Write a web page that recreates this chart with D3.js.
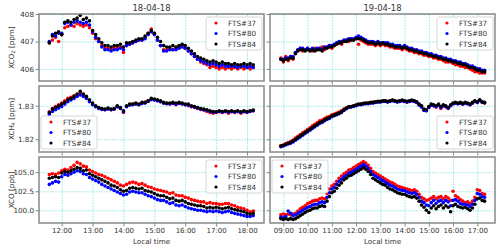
<!DOCTYPE html>
<html>
<head>
<meta charset="utf-8">
<script src="https://cdn.jsdelivr.net/npm/d3@7"></script>
<style>
  body { margin: 0; background: #fff; }
  svg { display: block; font-family: "DejaVu Sans", sans-serif; }
</style>
</head>
<body>
<div id="chart"></div>
<script>
// two measurement days, three instruments, three gases
var days = ['18-04-18', '19-04-18'];
var instruments = ['FTS#37', 'FTS#80', 'FTS#84'];
var gases = ['XCO2', 'XCH4', 'XCO'];

// sample times (local hour), one every 6 minutes
var day1Start = 11.6, day1Count = 67;
var day2Start = 8.9, day2Count = 85;

var xTicksDay1 = [12, 13, 14, 15, 16, 17, 18];
var xTicksDay2 = [9, 10, 11, 12, 13, 14, 15, 16, 17];
var yTicksCO2 = [406, 407, 408];
var yTicksCH4 = [1.82, 1.83];
var yTicksCO = [100, 102.5, 105];

// ---- XCO2 [ppm] ----
var co2Day1_37 = [406.95,407.05,407.15,407.00,407.25,407.50,407.55,407.60,407.55,407.65,
  407.60,407.55,407.60,407.50,407.30,407.10,407.00,406.85,406.75,406.75,
  406.70,406.75,406.75,406.80,406.60,406.85,406.90,406.95,407.00,407.05,
  407.05,407.15,407.30,407.45,407.30,407.05,406.85,406.70,406.70,406.75,
  406.70,406.75,406.80,406.85,406.75,406.65,406.55,406.45,406.35,406.25,
  406.20,406.15,406.05,406.10,406.05,406.00,406.05,406.00,406.05,406.00,
  406.05,406.00,406.05,406.00,406.05,406.00,406.05];
var co2Day1_80 = [407.00,407.25,407.20,407.30,407.30,407.65,407.70,407.60,407.70,407.75,
  407.70,407.65,407.70,407.60,407.35,407.15,407.00,406.80,406.70,406.70,
  406.65,406.70,406.70,406.75,406.70,406.85,406.90,406.95,407.00,407.05,
  407.05,407.10,407.25,407.35,407.25,407.05,406.85,406.65,406.65,406.70,
  406.70,406.70,406.75,406.80,406.75,406.65,406.55,406.45,406.35,406.30,
  406.25,406.20,406.15,406.20,406.15,406.10,406.15,406.10,406.10,406.10,
  406.10,406.05,406.10,406.10,406.05,406.10,406.05];
var co2Day1_84 = [406.95,407.20,407.30,407.35,407.25,407.70,407.75,407.70,407.80,407.85,
  407.95,407.80,407.85,407.75,407.40,407.25,407.10,406.95,406.85,406.85,
  406.80,406.85,406.85,406.90,406.80,406.95,406.95,407.00,407.05,407.10,
  407.10,407.20,407.30,407.40,407.30,407.15,407.00,406.85,406.80,406.80,
  406.85,406.80,406.85,406.90,406.85,406.75,406.65,406.55,406.45,406.40,
  406.35,406.30,406.25,406.30,406.25,406.20,406.25,406.20,406.20,406.15,
  406.20,406.15,406.15,406.20,406.15,406.20,406.15];
var co2Day2_37 = [406.40,406.25,406.45,406.30,406.45,406.35,406.60,406.70,406.75,406.65,
  406.70,406.75,406.70,406.65,406.75,406.70,406.75,406.80,406.70,406.80,
  406.85,406.75,406.85,406.90,406.95,406.90,407.00,407.05,407.00,407.10,
  407.05,407.10,406.90,407.05,407.00,406.95,406.90,406.90,406.90,406.85,
  406.90,406.85,406.90,406.85,406.85,406.80,406.80,406.75,406.75,406.75,
  406.70,406.75,406.70,406.65,406.65,406.60,406.60,406.55,406.55,406.50,
  406.50,406.45,406.45,406.40,406.40,406.35,406.35,406.30,406.25,406.25,
  406.25,406.20,406.15,406.15,406.10,406.10,406.05,406.05,406.00,405.95,
  405.90,405.90,405.85,405.85,405.85];
var co2Day2_80 = [406.35,406.35,406.40,406.40,406.45,406.45,406.60,406.70,406.75,406.75,
  406.70,406.75,406.70,406.75,406.70,406.75,406.75,406.70,406.80,406.80,
  406.85,406.85,406.90,406.95,407.00,407.00,407.05,407.05,407.10,407.10,
  407.10,407.15,407.20,407.15,407.10,407.05,407.00,407.00,407.00,406.95,
  407.00,406.95,406.95,406.95,406.95,406.90,406.90,406.85,406.85,406.85,
  406.80,406.85,406.80,406.75,406.75,406.70,406.70,406.65,406.65,406.60,
  406.60,406.55,406.55,406.50,406.50,406.45,406.45,406.40,406.40,406.35,
  406.35,406.30,406.30,406.25,406.25,406.20,406.20,406.15,406.10,406.10,
  406.05,406.00,406.00,405.95,405.95];
var co2Day2_84 = [406.35,406.30,406.35,406.35,406.40,406.40,406.55,406.65,406.70,406.70,
  406.65,406.70,406.65,406.70,406.65,406.70,406.70,406.65,406.75,406.75,
  406.80,406.80,406.85,406.90,406.95,406.95,407.00,407.00,407.05,407.05,
  407.05,407.10,407.10,407.10,407.05,407.00,406.95,406.95,406.95,406.90,
  406.95,406.90,406.95,406.90,406.90,406.85,406.85,406.80,406.80,406.80,
  406.75,406.80,406.75,406.70,406.70,406.65,406.65,406.60,406.60,406.55,
  406.55,406.50,406.50,406.45,406.45,406.40,406.40,406.35,406.35,406.30,
  406.30,406.25,406.25,406.20,406.20,406.15,406.15,406.10,406.05,406.05,
  406.00,405.95,405.95,405.90,405.90];

// ---- XCH4 [ppm] ----
var ch4Day1_37 = [1.8282,1.8292,1.8298,1.8303,1.8308,1.8315,1.8322,1.8325,1.8330,1.8333,
  1.8338,1.8332,1.8325,1.8315,1.8305,1.8298,1.8293,1.8290,1.8288,1.8292,
  1.8288,1.8290,1.8298,1.8292,1.8280,1.8298,1.8303,1.8305,1.8306,1.8303,
  1.8308,1.8310,1.8315,1.8320,1.8318,1.8315,1.8312,1.8308,1.8307,1.8305,
  1.8308,1.8303,1.8308,1.8305,1.8303,1.8300,1.8297,1.8295,1.8292,1.8289,
  1.8287,1.8283,1.8280,1.8278,1.8280,1.8282,1.8280,1.8282,1.8278,1.8282,
  1.8280,1.8282,1.8278,1.8282,1.8280,1.8283,1.8285];
var ch4Day1_80 = [1.8275,1.8283,1.8288,1.8293,1.8298,1.8305,1.8312,1.8317,1.8322,1.8328,
  1.8332,1.8328,1.8322,1.8312,1.8303,1.8297,1.8292,1.8289,1.8288,1.8290,
  1.8288,1.8290,1.8297,1.8292,1.8282,1.8297,1.8302,1.8303,1.8305,1.8303,
  1.8307,1.8308,1.8313,1.8318,1.8317,1.8315,1.8312,1.8308,1.8306,1.8306,
  1.8307,1.8305,1.8307,1.8306,1.8303,1.8302,1.8298,1.8296,1.8293,1.8290,
  1.8288,1.8286,1.8283,1.8281,1.8281,1.8283,1.8281,1.8283,1.8281,1.8283,
  1.8281,1.8283,1.8280,1.8283,1.8281,1.8284,1.8285];
var ch4Day1_84 = [1.8280,1.8290,1.8295,1.8300,1.8305,1.8310,1.8318,1.8322,1.8328,1.8335,
  1.8343,1.8335,1.8328,1.8318,1.8308,1.8300,1.8295,1.8292,1.8290,1.8293,
  1.8290,1.8292,1.8300,1.8295,1.8285,1.8300,1.8305,1.8305,1.8308,1.8305,
  1.8310,1.8310,1.8315,1.8322,1.8320,1.8318,1.8315,1.8310,1.8308,1.8308,
  1.8310,1.8308,1.8310,1.8308,1.8305,1.8305,1.8300,1.8298,1.8295,1.8292,
  1.8290,1.8288,1.8285,1.8283,1.8282,1.8285,1.8283,1.8285,1.8283,1.8285,
  1.8283,1.8285,1.8282,1.8285,1.8283,1.8285,1.8287];
var ch4Day2_37 = [1.8181,1.8183,1.8187,1.8190,1.8193,1.8198,1.8204,1.8209,1.8214,1.8219,
  1.8224,1.8229,1.8234,1.8240,1.8245,1.8250,1.8255,1.8257,1.8262,1.8266,
  1.8268,1.8273,1.8275,1.8278,1.8281,1.8285,1.8290,1.8294,1.8297,1.8298,
  1.8300,1.8302,1.8304,1.8305,1.8306,1.8307,1.8308,1.8309,1.8310,1.8311,
  1.8312,1.8312,1.8314,1.8314,1.8312,1.8314,1.8316,1.8314,1.8312,1.8313,
  1.8315,1.8313,1.8311,1.8313,1.8315,1.8313,1.8310,1.8303,1.8297,1.8287,
  1.8285,1.8295,1.8302,1.8300,1.8296,1.8302,1.8292,1.8300,1.8297,1.8292,
  1.8300,1.8306,1.8308,1.8306,1.8308,1.8305,1.8308,1.8306,1.8303,1.8308,
  1.8313,1.8310,1.8316,1.8310,1.8308];
var ch4Day2_80 = [1.8178,1.8180,1.8183,1.8186,1.8188,1.8192,1.8197,1.8202,1.8207,1.8212,
  1.8217,1.8222,1.8227,1.8232,1.8237,1.8242,1.8247,1.8250,1.8255,1.8259,
  1.8262,1.8267,1.8270,1.8273,1.8276,1.8280,1.8286,1.8291,1.8295,1.8296,
  1.8298,1.8300,1.8303,1.8303,1.8305,1.8306,1.8306,1.8308,1.8308,1.8310,
  1.8311,1.8311,1.8313,1.8313,1.8311,1.8313,1.8315,1.8313,1.8311,1.8313,
  1.8315,1.8313,1.8311,1.8313,1.8315,1.8313,1.8310,1.8302,1.8296,1.8286,
  1.8285,1.8295,1.8302,1.8300,1.8297,1.8302,1.8295,1.8300,1.8297,1.8293,
  1.8300,1.8306,1.8308,1.8306,1.8308,1.8305,1.8308,1.8306,1.8303,1.8308,
  1.8313,1.8310,1.8316,1.8311,1.8309];
var ch4Day2_84 = [1.8180,1.8182,1.8185,1.8188,1.8190,1.8195,1.8200,1.8205,1.8210,1.8215,
  1.8220,1.8225,1.8230,1.8235,1.8240,1.8245,1.8250,1.8253,1.8258,1.8262,
  1.8265,1.8270,1.8272,1.8275,1.8278,1.8282,1.8288,1.8293,1.8297,1.8298,
  1.8300,1.8302,1.8305,1.8305,1.8307,1.8308,1.8308,1.8310,1.8310,1.8312,
  1.8313,1.8313,1.8315,1.8315,1.8313,1.8315,1.8317,1.8315,1.8313,1.8315,
  1.8317,1.8315,1.8313,1.8315,1.8317,1.8315,1.8312,1.8305,1.8300,1.8290,
  1.8288,1.8298,1.8305,1.8303,1.8300,1.8305,1.8298,1.8303,1.8300,1.8295,
  1.8303,1.8308,1.8310,1.8308,1.8310,1.8307,1.8310,1.8308,1.8305,1.8310,
  1.8315,1.8312,1.8318,1.8312,1.8310];

// ---- XCO [ppb] ----
var coDay1_37 = [104.7,104.8,104.7,104.9,105.2,105.4,105.3,105.6,105.9,106.3,
  106.1,105.8,105.7,105.3,105.1,104.9,104.7,104.6,104.4,104.2,
  104.0,103.8,103.6,103.3,103.2,103.4,103.6,103.7,103.6,103.4,
  103.5,103.3,103.1,103.0,102.8,102.7,102.6,102.5,102.4,102.2,
  102.3,102.0,101.9,101.9,101.7,101.6,101.4,101.3,101.2,101.1,
  101.1,100.9,101.0,100.9,100.9,100.8,100.8,100.9,100.9,100.7,
  100.6,100.4,100.3,100.2,100.0,99.8,99.9];
var coDay1_80 = [103.4,103.6,103.8,103.7,104.4,104.7,104.6,104.8,105.0,105.2,
  105.1,104.8,104.7,104.3,104.1,103.9,103.7,103.4,103.2,103.0,
  102.8,102.6,102.4,102.2,102.0,102.1,102.4,102.5,102.4,102.3,
  102.3,102.1,101.9,101.8,101.6,101.4,101.3,101.3,101.1,100.9,
  101.0,100.7,100.6,100.7,100.5,100.3,100.2,100.1,100.0,100.0,
  99.9,99.8,99.9,99.8,99.9,99.8,99.7,99.8,99.9,99.7,
  99.6,99.5,99.4,99.3,99.2,99.2,99.3];
var coDay1_84 = [104.2,104.3,104.4,104.3,104.9,105.1,105.0,105.2,105.4,105.6,
  105.5,105.2,105.3,104.8,104.6,104.4,104.2,104.0,103.8,103.6,
  103.3,103.2,103.0,102.7,102.5,102.6,102.9,103.0,102.9,102.8,
  102.9,102.6,102.5,102.4,102.2,102.0,101.9,101.9,101.7,101.5,
  101.6,101.3,101.2,101.3,101.1,100.9,100.8,100.7,100.6,100.6,
  100.5,100.3,100.4,100.3,100.4,100.3,100.2,100.3,100.4,100.2,
  100.1,100.0,99.9,99.8,99.6,99.5,99.6];
var coDay2_37 = [99.4,99.5,99.4,99.5,99.4,99.5,99.6,99.9,100.2,100.4,
  100.6,100.9,101.0,101.2,101.3,101.3,101.5,101.6,101.5,102.2,
  102.8,103.2,103.4,103.8,104.2,104.5,104.8,105.0,105.3,105.4,
  105.6,105.8,106.0,106.2,106.4,106.2,105.9,105.5,105.1,104.9,
  104.7,104.5,104.3,104.1,103.9,103.7,103.6,103.4,103.2,103.1,
  103.0,102.9,102.8,102.7,102.6,102.7,102.5,102.1,101.7,101.5,
  101.3,101.4,101.6,101.8,101.5,101.7,101.8,101.5,101.8,101.6,
  101.3,102.5,101.9,101.7,101.4,101.2,101.0,101.1,100.9,101.2,
  101.7,102.7,102.6,102.2,102.1];
var coDay2_80 = [99.1,99.0,99.2,99.9,99.6,99.3,99.4,99.6,99.8,100.0,
  100.2,100.4,100.5,100.7,100.8,100.8,101.0,101.1,101.0,101.7,
  102.3,102.8,103.0,103.4,103.8,104.1,104.4,104.6,104.9,105.0,
  105.2,105.4,105.6,105.8,106.0,105.8,105.5,105.1,104.7,104.5,
  104.3,104.1,103.9,103.7,103.5,103.3,103.2,103.0,102.8,102.7,
  102.6,102.6,102.4,102.3,102.2,102.3,102.1,101.7,101.2,101.0,
  100.7,100.6,101.0,101.3,100.9,101.2,101.3,101.0,101.3,101.1,
  100.6,101.3,101.4,101.2,100.9,100.8,100.8,100.7,100.5,100.8,
  101.3,102.2,102.1,101.8,101.7];
var coDay2_84 = [98.9,98.8,98.9,98.8,98.9,98.8,98.9,99.1,99.3,99.5,
  99.7,99.9,100.0,100.2,100.3,100.3,100.5,100.6,100.5,101.2,
  101.8,102.3,102.5,102.9,103.3,103.6,104.0,104.2,104.5,104.6,
  104.8,105.0,105.2,105.4,105.6,105.4,105.1,104.7,104.2,104.0,
  103.8,103.6,103.4,103.3,103.0,102.8,102.7,102.5,102.3,102.2,
  102.1,102.1,101.9,101.8,101.7,101.8,101.6,101.2,100.7,100.4,
  100.0,99.7,100.3,100.6,100.2,100.5,100.7,100.3,100.6,100.4,
  99.8,100.6,100.8,100.5,100.4,100.3,100.4,100.2,100.0,100.3,
  100.8,101.5,101.6,101.3,101.2];

// ---- layout ----
var width = 500, height = 248;
var colX = [[39, 264], [270, 495]];
var rowY = [[14, 81], [86, 152], [157, 223]];
var xDomains = [[11.265, 18.55], [8.45, 17.73]];
var yDomains = [[405.56, 408.0], [1.8162, 1.8359], [98.33, 107.0]];
var colors = ['#ff0000', '#0000ff', '#000000'];

var series = [
  [[co2Day1_37, co2Day1_80, co2Day1_84], [co2Day2_37, co2Day2_80, co2Day2_84]],
  [[ch4Day1_37, ch4Day1_80, ch4Day1_84], [ch4Day2_37, ch4Day2_80, ch4Day2_84]],
  [[coDay1_37, coDay1_80, coDay1_84], [coDay2_37, coDay2_80, coDay2_84]]
];
var times = [
  d3.range(day1Count).map(i => +(day1Start + i * 0.1).toFixed(2)),
  d3.range(day2Count).map(i => +(day2Start + i * 0.1).toFixed(2))
];
var xTicks = [xTicksDay1, xTicksDay2];
var yTicks = [yTicksCO2, yTicksCH4, yTicksCO];
var yFormats = [d3.format('d'), d3.format('.2f'), d3.format('.1f')];
// legend corner per panel: [row][col]
var legendPos = [['ur', 'ur'], ['ll', 'lr'], ['ur', 'ul']];

var svg = d3.select('#chart').append('svg')
  .attr('width', width).attr('height', height);

var fmtHour = h => (h < 10 ? '0' : '') + h + ':00';

for (let r = 0; r < 3; r++) {
  for (let c = 0; c < 2; c++) {
    let x = d3.scaleLinear().domain(xDomains[c]).range(colX[c]);
    let y = d3.scaleLinear().domain(yDomains[r]).range([rowY[r][1], rowY[r][0]]);
    let x0 = colX[c][0], x1 = colX[c][1], y0 = rowY[r][0], y1 = rowY[r][1];
    let g = svg.append('g');

    // grid
    g.append('g')
      .attr('transform', `translate(0,${y1})`)
      .call(d3.axisBottom(x).tickValues(xTicks[c]).tickSize(-(y1 - y0)).tickFormat(''))
      .call(s => s.select('.domain').remove())
      .selectAll('line').attr('stroke', '#7fe0e0').attr('stroke-width', 0.8).attr('stroke-dasharray', '1.5,1.2');
    g.append('g')
      .attr('transform', `translate(${x0},0)`)
      .call(d3.axisLeft(y).tickValues(yTicks[r]).tickSize(-(x1 - x0)).tickFormat(''))
      .call(s => s.select('.domain').remove())
      .selectAll('line').attr('stroke', '#7fe0e0').attr('stroke-width', 0.8).attr('stroke-dasharray', '1.5,1.2');

    // points
    let t = times[c];
    series[r][c].forEach((vals, k) => {
      g.append('g').selectAll('circle')
        .data(vals)
        .enter().append('circle')
        .attr('cx', (d, i) => x(t[i]))
        .attr('cy', d => y(d))
        .attr('r', 1.8)
        .attr('fill', colors[k]);
    });

    // frame
    g.append('rect')
      .attr('x', x0).attr('y', y0)
      .attr('width', x1 - x0).attr('height', y1 - y0)
      .attr('fill', 'none').attr('stroke', '#888').attr('stroke-width', 1.5);

    // axes
    let ax = g.append('g')
      .attr('transform', `translate(0,${y1})`)
      .call(d3.axisBottom(x).tickValues(xTicks[c]).tickSize(3.5).tickPadding(2)
        .tickFormat(r === 2 ? fmtHour : ''));
    ax.select('.domain').remove();
    ax.selectAll('line').attr('stroke', '#888');
    ax.selectAll('text').attr('font-size', 7).attr('fill', '#333').attr('font-family', 'DejaVu Sans');

    let ay = g.append('g')
      .attr('transform', `translate(${x0},0)`)
      .call(d3.axisLeft(y).tickValues(yTicks[r]).tickSize(3.5).tickPadding(1.5)
        .tickFormat(c === 0 ? yFormats[r] : ''));
    ay.select('.domain').remove();
    ay.selectAll('line').attr('stroke', '#888');
    ay.selectAll('text').attr('font-size', 7.2).attr('fill', '#333').attr('font-family', 'DejaVu Sans');

    // legend
    let lw = 56, lh = 33;
    let pos = legendPos[r][c];
    let lx = pos[1] === 'r' ? x1 - 2 - lw : x0 + 2;
    let ly = pos[0] === 'u' ? y0 + 3 : y1 - 3 - lh;
    let lg = g.append('g').attr('transform', `translate(${lx},${ly})`);
    lg.append('rect')
      .attr('width', lw).attr('height', lh).attr('rx', 2)
      .attr('fill', 'white').attr('fill-opacity', 0.8)
      .attr('stroke', '#ccc').attr('stroke-width', 0.8);
    instruments.forEach((name, k) => {
      lg.append('circle').attr('cx', 10).attr('cy', 6 + k * 10.5).attr('r', 1.6).attr('fill', colors[k]);
      lg.append('text').attr('x', 22).attr('y', 6 + k * 10.5).attr('dy', '0.35em')
        .attr('font-size', 7.2).attr('fill', '#333').text(name);
    });
  }
}

// titles
days.forEach((d, c) => {
  svg.append('text')
    .attr('x', (colX[c][0] + colX[c][1]) / 2).attr('y', 11)
    .attr('text-anchor', 'middle').attr('font-size', 8.4).attr('fill', '#333')
    .text(d);
  svg.append('text')
    .attr('x', (colX[c][0] + colX[c][1]) / 2).attr('y', 243.5)
    .attr('text-anchor', 'middle').attr('font-size', 7.2).attr('fill', '#333')
    .text('Local time');
});

// y labels with subscripts
var yLabels = [['XCO', '2', ' [ppm]'], ['XCH', '4', ' [ppm]'], ['XCO', '', ' [ppb]']];
yLabels.forEach((lab, r) => {
  let cy = (rowY[r][0] + rowY[r][1]) / 2;
  let tx = svg.append('text')
    .attr('transform', `translate(13.5,${cy}) rotate(-90)`)
    .attr('text-anchor', 'middle').attr('font-size', 7.2).attr('fill', '#333');
  tx.append('tspan').text(lab[0]);
  if (lab[1]) {
    tx.append('tspan').attr('font-size', 5).attr('dy', 1.8).text(lab[1]);
    tx.append('tspan').attr('dy', -1.8).text(lab[2]);
  } else {
    tx.append('tspan').text(lab[2]);
  }
});
</script>
</body>
</html>
